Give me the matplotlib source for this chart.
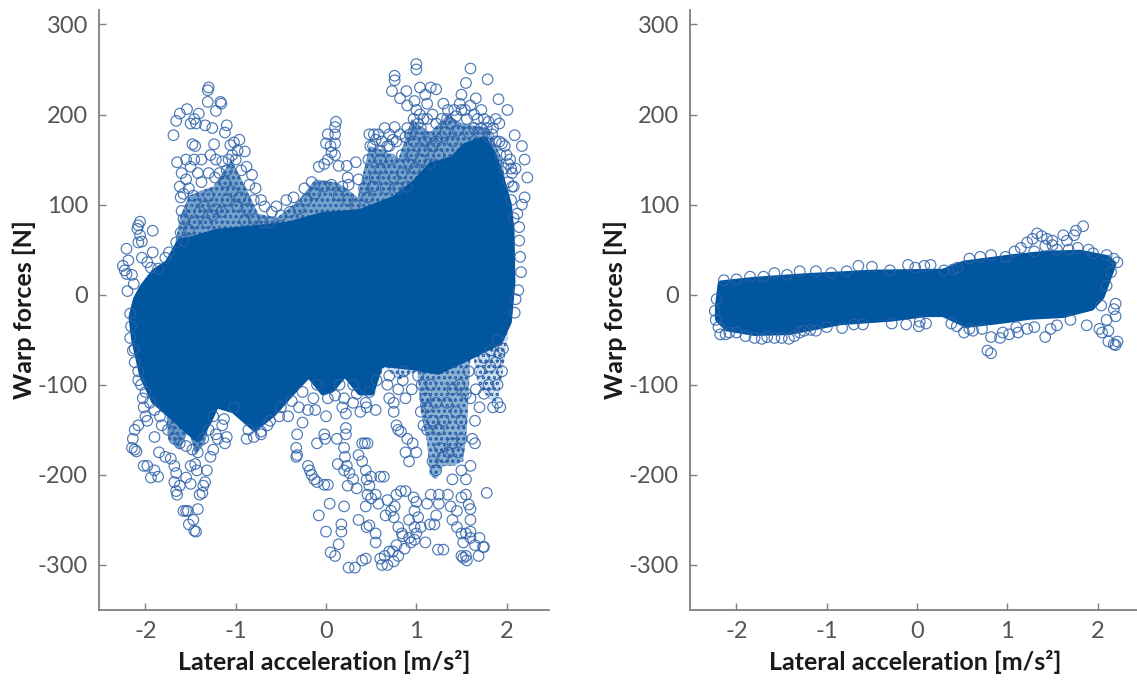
import matplotlib
matplotlib.use('Agg')
import matplotlib.pyplot as plt

plt.rcParams['font.family'] = ['Lato', 'DejaVu Sans']
plt.rcParams['hatch.linewidth'] = 0.6

BLUE = '#00569f'
RING = '#2f62a9'

# --- solid core outlines (x, y) ---
left_core = [(-2.15, -25), (-2.10, -5), (-2.03, 8), (-1.90, 25), (-1.75, 35), (-1.62, 58), (-1.45, 62), (-1.22, 69),
             (-0.82, 73), (-0.43, 77), (-0.03, 88), (0.37, 91), (0.76, 106), (1.00, 125), (1.16, 143), (1.40, 150),
             (1.55, 165), (1.75, 172), (1.85, 155), (1.95, 125), (2.02, 100), (2.05, 69), (2.06, 14), (2.02, -30),
             (1.92, -52), (1.56, -70), (1.24, -85), (0.96, -80), (0.60, -76), (0.50, -108), (0.38, -108), (0.21, -87),
             (0.06, -105), (-0.03, -108), (-0.19, -88), (-0.35, -105), (-0.59, -132), (-0.79, -148), (-1.02, -128),
             (-1.22, -122), (-1.30, -140), (-1.42, -160), (-1.54, -150), (-1.70, -135), (-1.90, -118), (-2.03, -90),
             (-2.12, -50)]
# looser zones, circles overlap but gaps show
left_mid_up = [(-1.70, 40), (-1.62, 85), (-1.52, 110), (-1.40, 115), (-1.25, 120), (-1.05, 150), (-0.92, 125),
               (-0.75, 90), (-0.55, 85), (-0.30, 105), (-0.12, 128), (0.10, 125), (0.20, 120), (0.35, 108),
               (0.48, 165), (0.65, 160), (0.80, 150), (0.95, 195), (1.15, 180), (1.35, 200), (1.50, 190),
               (1.80, 185), (1.95, 150), (2.05, 80), (1.0, 60), (0.0, 60), (-1.0, 60)]
left_mid_down = [(1.00, -70), (1.05, -130), (1.12, -165), (1.15, -200), (1.22, -205), (1.30, -190), (1.42, -190),
                 (1.52, -185), (1.56, -150), (1.60, -70)]
left_mid_side = [(1.62, -60), (1.68, -100), (1.80, -115), (1.90, -120), (1.96, -85), (2.02, -40), (1.80, -45)]
left_mid_flat = [(0.44, -70), (0.55, -100), (0.65, -80), (0.80, -95), (1.00, -85), (1.00, -70)]
left_low_patches = [(-1.78, -115), (-1.75, -160), (-1.62, -172), (-1.52, -150), (-1.45, -178), (-1.34, -165),
                    (-1.25, -120), (-1.60, -110)]

left_upper = [(-2.06, 81), (-2.08, 77), (-2.09, 73), (-2.06, 66), (-2.08, 58), (-2.04, 59), (-1.92, 71), (-2.21, 51),
              (-2.19, 38), (-2.25, 32), (-2.23, 27), (-2.21, 23), (-2.15, 22), (-2.20, 4), (-2.13, 12), (-2.04, 41),
              (-1.92, 47), (-1.98, 36), (-1.94, 30), (-1.86, 29), (-1.78, 41), (-1.74, 47), (-1.66, 58), (-1.61, 69),
              (-1.60, 93), (-1.58, 84), (-2.17, -21), (-1.30, 230), (-1.31, 227), (-1.31, 214), (-1.17, 214),
              (-1.16, 212), (-1.22, 204), (-1.54, 206), (-1.62, 201), (-1.66, 193), (-1.41, 201), (-1.46, 195),
              (-1.50, 190), (-1.44, 190), (-1.34, 188), (-1.26, 185), (-1.69, 177), (-1.10, 188), (-1.12, 180),
              (-1.48, 167), (-1.24, 167), (-0.96, 172), (-1.02, 169), (-1.06, 166), (-0.90, 159), (-1.65, 147),
              (-1.28, 155), (-1.46, 150), (-1.50, 142), (-1.60, 135), (-1.55, 128), (-1.42, 135), (-1.38, 125),
              (-1.62, 120), (-1.58, 112), (-1.61, 108), (-1.52, 118), (-1.47, 110), (-1.22, 150), (-1.15, 148),
              (-1.08, 150), (-1.00, 150), (-0.94, 138), (-0.82, 133), (-0.85, 122), (-0.78, 118), (-0.72, 105),
              (-1.23, 130), (-1.12, 125), (-1.30, 110), (-1.35, 98), (-1.22, 95), (-0.95, 108), (-0.88, 95),
              (-0.68, 98), (-0.60, 92), (-0.55, 98), (-0.44, 105), (-0.36, 108), (-0.24, 118), (-0.16, 125),
              (-0.08, 142), (-0.02, 145), (0.0, 168), (0.02, 178), (0.05, 165), (0.10, 155), (0.11, 192),
              (0.10, 186), (0.10, 178), (0.10, 168), (0.06, 158), (0.02, 150), (0.14, 143), (0.23, 143), (0.33, 147),
              (0.24, 130), (0.25, 122), (0.18, 120), (0.36, 128), (0.42, 118), (0.47, 150), (0.49, 165), (0.53, 178),
              (0.55, 172), (0.60, 160), (0.65, 185), (0.70, 178), (0.76, 186), (0.78, 170), (0.72, 150), (0.60, 140),
              (0.75, 130), (0.52, 120), (0.84, 155), (0.92, 145), (0.66, 118), (0.80, 118),
              (0.73, 226), (0.76, 238), (0.76, 243), (1.00, 250), (1.00, 256), (1.04, 230), (1.16, 230), (1.22, 228),
              (0.89, 226), (0.82, 218), (0.90, 210), (0.98, 215), (1.10, 222), (1.12, 212), (1.30, 212), (1.35, 205),
              (1.50, 222), (1.55, 235), (1.60, 251), (1.79, 239), (1.91, 217), (2.01, 205), (1.66, 218), (1.72, 205),
              (2.09, 177), (2.17, 165), (2.20, 150), (2.23, 130), (2.20, 108), (2.17, 100), (1.88, 195), (1.85, 185),
              (1.92, 190), (1.80, 192), (1.75, 195), (1.68, 195), (0.97, 195), (1.02, 190), (1.05, 185), (1.10, 170),
              (1.18, 165), (0.97, 170), (0.88, 175), (0.96, 155), (1.05, 150), (1.15, 145), (1.25, 155), (1.28, 175),
              (1.38, 190), (1.44, 198), (1.50, 205), (1.58, 180), (1.95, 168), (2.00, 155), (2.06, 135), (2.08, 120),
              (2.12, 90), (2.14, 75), (2.14, 60), (2.15, 42), (2.16, 25), (2.13, 5), (2.10, -5), (2.09, -20),
              (2.06, 120), (2.10, 140), (2.02, 145)]

# more rings laid over the loose zones and along the core edge
left_extra = [(-2.16, -35), (-2.17, -48), (-2.14, -62), (-2.12, -75), (-2.08, -85), (-2.05, -100), (-2.00, -108),
              (-1.95, -120), (-1.90, -128), (-1.84, -135), (-1.58, 60), (-1.52, 72), (-1.46, 80), (-1.40, 92),
              (-1.32, 80), (-1.26, 88), (-1.16, 92), (-1.10, 105), (-1.04, 115), (-0.98, 98), (-0.90, 82), (-0.80, 84),
              (-0.70, 80), (-0.62, 80), (-0.50, 88), (-0.40, 92), (-0.30, 95), (-0.22, 105), (-0.12, 112), (-0.02, 120),
              (0.06, 122), (0.14, 110), (0.24, 105), (0.32, 100), (0.46, 108), (0.54, 130), (0.60, 150), (0.68, 165),
              (0.84, 135), (0.90, 120), (0.98, 140), (1.08, 160), (1.14, 175), (1.22, 170), (1.32, 180), (1.40, 170),
              (1.46, 182), (1.56, 195), (1.64, 185), (1.72, 185), (1.80, 175), (1.88, 170), (1.93, 155), (1.97, 140),
              (2.02, 125), (2.05, 105), (2.08, 85), (-0.72, -152), (-0.62, -140), (-0.50, -125), (-0.38, -118),
              (-0.26, -108), (-0.10, -100), (0.10, -112), (0.15, -100), (0.30, -100), (0.34, -110), (0.48, -108),
              (0.56, -95), (0.70, -90), (0.86, -85), (1.02, -90), (1.06, -100), (1.08, -145), (1.12, -150), (1.18, -185),
              (1.22, -195), (1.26, -170), (1.30, -180), (1.36, -175), (1.40, -165), (1.46, -175), (1.50, -160),
              (1.50, -140), (1.44, -130), (1.34, -120), (1.30, -140), (1.22, -120), (1.16, -100), (1.48, -100),
              (1.55, -110), (1.58, -85), (1.70, -85), (1.75, -70), (1.82, -62), (1.90, -50), (1.96, -60), (1.25, -150),
              (1.18, -140), (1.12, -125), (1.40, -105), (-1.75, -150), (-1.68, -160), (-1.62, -165), (-1.55, -168),
              (-1.48, -172), (-1.42, -175), (-1.36, -160), (-1.30, -150), (-1.25, -135),
              (0.48, 178), (0.52, 165), (0.58, 178), (0.62, 170), (0.70, 165), (0.74, 172), (0.82, 178), (0.90, 185),
              (0.93, 178), (1.00, 205), (1.04, 200), (1.08, 195), (1.12, 195), (1.18, 200), (1.22, 190), (1.28, 195),
              (1.34, 195), (1.42, 205), (1.48, 212), (1.54, 205), (1.60, 210), (1.64, 200), (1.70, 180), (1.78, 185),
              (1.84, 178), (1.92, 170), (1.98, 165), (2.04, 150), (2.05, 140), (-1.55, 150), (-1.45, 165), (-1.38, 150),
              (-1.30, 135), (-1.18, 135), (-1.10, 138), (-1.04, 155), (-0.98, 160), (-0.88, 142), (-0.80, 105)]

left_lower = [(-2.12, -60), (-2.08, -95), (-2.03, -115), (-2.02, -125), (-2.00, -135), (-1.98, -140), (-2.12, -150),
              (-2.14, -160), (-2.08, -145), (-2.15, -170), (-2.12, -172), (-2.10, -174), (-2.02, -190), (-1.98, -190),
              (-1.90, -195), (-1.94, -203), (-1.86, -202), (-1.90, -158), (-1.85, -175), (-1.82, -145), (-1.78, -180),
              (-1.72, -182), (-1.68, -190), (-1.66, -198), (-1.68, -208), (-1.65, -222), (-1.66, -218), (-1.62, -212),
              (-1.58, -240), (-1.55, -240), (-1.53, -240), (-1.52, -255), (-1.47, -250), (-1.46, -262), (-1.44, -263),
              (-1.42, -238), (-1.40, -222), (-1.36, -212), (-1.34, -208), (-1.37, -220), (-1.50, -210), (-1.55, -203),
              (-1.50, -190), (-1.45, -188), (-1.43, -195), (-1.32, -195), (-1.28, -180), (-1.25, -172), (-1.20, -160),
              (-1.22, -155), (-1.12, -165), (-1.10, -158), (-1.15, -145), (-1.13, -138), (-1.02, -125), (-0.88, -160),
              (-0.86, -150), (-0.80, -158), (-0.72, -155), (-0.65, -145), (-0.52, -135), (-0.42, -135), (-0.26, -142),
              (-0.30, -125), (-0.20, -128), (-0.14, -115), (-0.12, -128), (-0.32, -155), (-0.33, -170), (-0.32, -178),
              (-0.33, -180), (-0.20, -190), (-0.18, -195), (-0.16, -200), (-0.13, -205), (-0.10, -208), (-0.02, -211),
              (0.02, -211), (-0.10, -165), (-0.02, -155), (-0.01, -160), (0.0, -135), (0.02, -115), (0.12, -160),
              (0.20, -115), (0.18, -125), (0.22, -132), (0.22, -148), (0.22, -155), (0.20, -170), (0.21, -180),
              (0.23, -190), (0.13, -188), (0.20, -195), (0.26, -198), (0.24, -212), (0.30, -205), (0.34, -215),
              (0.40, -185), (0.44, -195), (0.36, -178), (0.45, -205), (0.48, -212), (0.46, -222), (0.50, -202),
              (0.60, -202), (0.64, -202), (0.44, -120), (0.40, -165), (0.43, -165), (0.46, -165), (0.04, -232),
              (0.20, -235), (-0.08, -245), (0.0, -263), (0.17, -255), (0.17, -263), (0.14, -277), (0.05, -286),
              (0.10, -290), (0.25, -303), (0.32, -303), (0.40, -295), (0.44, -293), (0.36, -250), (0.45, -258),
              (0.48, -256), (0.44, -235), (0.50, -226), (0.55, -222), (0.58, -232), (0.55, -265), (0.55, -275),
              (0.66, -245), (0.72, -240), (0.75, -247), (0.68, -228), (0.76, -235), (0.78, -222), (0.83, -218),
              (0.88, -218), (0.97, -225), (1.0, -230), (0.98, -240), (1.02, -247), (0.92, -250), (0.98, -258),
              (0.80, -258), (0.84, -265), (0.85, -268), (0.92, -270), (0.94, -275), (0.98, -272), (1.0, -265),
              (0.78, -278), (0.74, -285), (0.70, -285), (0.65, -290), (0.60, -293), (0.62, -300), (0.68, -300),
              (0.75, -296), (0.80, -290), (0.87, -282), (1.05, -258), (1.10, -275), (1.15, -255), (1.20, -255),
              (1.22, -245), (1.24, -283), (1.30, -283), (1.12, -232), (1.16, -222), (1.25, -232), (1.25, -222),
              (1.35, -222), (1.38, -235), (1.40, -250), (1.45, -240), (1.50, -225), (1.55, -222), (1.58, -233),
              (1.60, -238), (1.45, -258), (1.50, -265), (1.55, -265), (1.60, -263), (1.52, -275), (1.60, -250),
              (1.78, -220), (1.70, -270), (1.74, -280), (1.60, -270), (1.55, -290), (1.50, -290), (1.56, -295),
              (1.52, -292), (1.65, -278), (1.69, -290), (1.75, -280), (1.40, -205), (1.50, -195), (1.55, -205),
              (1.62, -160), (1.65, -165), (1.60, -190), (1.65, -140), (1.70, -125), (1.60, -115), (1.66, -105),
              (1.85, -125), (1.90, -120), (1.93, -125), (1.90, -100), (1.95, -85), (1.92, -65), (1.75, -110),
              (1.80, -100), (1.82, -80), (1.88, -75), (0.75, -130), (0.78, -145), (0.80, -150), (0.83, -152),
              (0.75, -120), (0.88, -115), (0.95, -105), (0.80, -105), (1.10, -115), (1.05, -130), (1.00, -175),
              (0.92, -185), (0.88, -175), (0.90, -160), (0.96, -165), (0.55, -128), (0.45, -125), (0.38, -130),
              (0.30, -120), (0.70, -115), (0.68, -100), (0.85, -95)]

right_core = [(-2.20, -27), (-2.20, -12), (-2.17, 12), (-1.80, 16), (-1.23, 20), (-0.47, 24), (0.29, 25), (0.52, 34),
              (1.05, 41), (1.43, 45), (1.81, 46), (2.11, 40), (2.17, 34), (2.12, 20), (2.04, -2), (1.93, -14),
              (1.62, -22), (1.24, -24), (0.97, -28), (0.55, -33), (0.29, -21), (0.10, -21), (-0.28, -26), (-0.85, -30),
              (-1.42, -41), (-1.80, -42), (-2.10, -37)]

right_ring = [(-2.18, -44), (-2.12, -44), (-2.08, -42), (-1.80, -48), (-1.72, -49), (-1.66, -47), (-1.58, -48),
              (-1.50, -48), (-1.42, -49), (-1.36, -46), (-1.30, -42), (-1.18, -39), (-1.12, -40), (-0.83, -37),
              (-0.60, -33), (-0.28, -32), (-0.12, -33), (0.02, -35), (0.03, -30), (0.10, -32), (0.38, -32), (0.44, -35),
              (0.52, -42), (0.58, -38), (0.62, -40), (0.72, -38), (0.78, -62), (0.82, -65), (0.82, -47), (0.92, -48),
              (0.95, -42), (1.02, -44), (1.10, -36), (1.12, -42), (1.22, -38), (1.30, -36), (1.42, -47), (1.48, -38),
              (1.55, -34), (1.70, -28), (1.88, -34), (2.02, -38), (2.05, -42), (2.12, -40), (2.10, -28), (2.18, -16),
              (2.20, -10), (2.20, -24), (2.12, -52), (2.18, -55), (2.22, -52), (2.20, -56), (-1.58, 24), (-1.30, 26),
              (-1.12, 26), (-0.78, 26), (-0.65, 32), (-0.50, 31), (-0.10, 33), (-0.02, 30), (0.08, 32), (0.15, 33),
              (0.45, 30), (0.58, 40), (0.70, 42), (0.82, 44), (0.98, 42), (1.08, 48), (1.15, 52), (1.22, 58), (1.28, 62),
              (1.33, 68), (1.38, 65), (1.44, 62), (1.50, 60), (1.42, 54), (1.50, 55), (1.62, 66), (1.66, 60), (1.76, 71),
              (1.84, 76), (1.74, 66), (1.78, 52), (1.90, 50), (2.10, 44), (2.18, 40), (2.22, 36), (-2.22, -5), (-2.24, -18),
              (-2.23, -28), (-2.20, -36), (-2.00, -42), (-1.90, -46), (-1.25, -40), (-1.00, -36), (-0.70, -33),
              (-2.14, 16), (-2.00, 17), (-1.85, 20), (-1.70, 20), (-1.44, 22), (-0.95, 24), (-0.30, 27), (0.30, 27),
              (0.40, 28), (1.30, 48), (1.55, 50), (1.68, 50), (1.95, 46), (2.15, 25), (2.10, 10), (2.04, -12)]

xtick_vals = [-2, -1, 0, 1, 2]
ytick_vals = [-300, -200, -100, 0, 100, 200, 300]
ytick_labels = ['-300', '-200', '-100', '0', '100', '200', '300']
xlabel = 'Lateral acceleration [m/s²]'
ylabel = 'Warp forces [N]'


def draw_core(ax, outline):
    xs, ys = zip(*outline)
    # thick round edge so the outline reads as stacked circles
    ax.fill(xs, ys, facecolor=BLUE, edgecolor=BLUE, lw=5, joinstyle='round', zorder=2)


def draw_loose(ax, outline, alpha):
    xs, ys = zip(*outline)
    ax.fill(xs, ys, facecolor=(0.0, 0.337, 0.624, alpha), edgecolor=RING, hatch='ooo', lw=0, zorder=1)


def draw_rings(ax, pts):
    xs, ys = zip(*pts)
    ax.scatter(xs, ys, s=58, facecolors='none', edgecolors=RING, linewidths=0.85, alpha=0.85, zorder=3)


def style_axes(ax):
    ax.set_xlim(-2.515, 2.47)
    ax.set_ylim(-350, 316)
    ax.set_xticks(xtick_vals)
    ax.set_xticklabels([str(v) for v in xtick_vals])
    ax.set_yticks(ytick_vals)
    ax.set_yticklabels(ytick_labels)
    ax.spines['top'].set_visible(False)
    ax.spines['right'].set_visible(False)
    for side in ('left', 'bottom'):
        ax.spines[side].set_color('#7f7f7f')
        ax.spines[side].set_linewidth(1.3)
    ax.tick_params(direction='in', length=5, width=1, color='#7f7f7f', labelcolor='#555555',
                   labelsize=17, pad=8)
    ax.set_xlabel(xlabel, fontsize=18, fontweight='bold', color='#1a1a1a', labelpad=6)
    ax.set_ylabel(ylabel, fontsize=18, fontweight='bold', color='#1a1a1a', labelpad=1)


fig = plt.figure(figsize=(11.37, 6.81), dpi=100)
ax1 = fig.add_axes([99 / 1137, 71 / 681, 450 / 1137, 600 / 681])
ax2 = fig.add_axes([690 / 1137, 71 / 681, 450 / 1137, 600 / 681])

draw_loose(ax1, left_mid_up, 0.55)
draw_loose(ax1, left_mid_down, 0.45)
draw_loose(ax1, left_mid_side, 0.2)
draw_loose(ax1, left_mid_flat, 0.2)
draw_loose(ax1, left_low_patches, 0.6)
draw_core(ax1, left_core)
draw_rings(ax1, left_upper)
draw_rings(ax1, left_extra)
draw_rings(ax1, left_lower)

draw_core(ax2, right_core)
draw_rings(ax2, right_ring)

style_axes(ax1)
style_axes(ax2)

plt.savefig('out.png', dpi=100)
